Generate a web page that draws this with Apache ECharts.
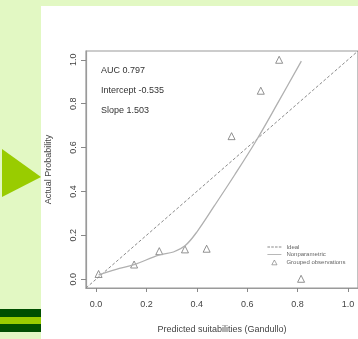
<!DOCTYPE html>
<html>
<head>
<meta charset="utf-8">
<script src="https://cdn.jsdelivr.net/npm/echarts@6/dist/echarts.min.js"></script>
<style>
html,body{margin:0;padding:0;background:#e2f8c3;}
#c{width:358px;height:339px;}
</style>
</head>
<body>
<div id="c"></div>
<script>
// ---- data ----
const xTicks = [0, 0.2, 0.4, 0.6, 0.8, 1.0];
const yTicks = [0, 0.2, 0.4, 0.6, 0.8, 1.0];
const idealX = [-0.04, 1.04];
const idealY = [-0.04, 1.04];
const npX = [0.010, 0.080, 0.151, 0.249, 0.307, 0.353, 0.400, 0.470, 0.550, 0.635, 0.720, 0.815];
const npY = [0.020, 0.045, 0.066, 0.110, 0.124, 0.152, 0.215, 0.335, 0.475, 0.630, 0.800, 0.994];
const obsX = [0.010, 0.151, 0.251, 0.353, 0.439, 0.538, 0.654, 0.727, 0.814];
const obsY = [0.024, 0.067, 0.128, 0.136, 0.139, 0.652, 0.859, 1.000, 0.002];
const seriesNames = ['Ideal', 'Nonparametric', 'Grouped observations'];
const statLines = ['AUC 0.797', 'Intercept -0.535', 'Slope 1.503'];
const xTitle = 'Predicted suitabilities (Gandullo)';
const yTitle = 'Actual Probability';

const zip = (a, b) => a.map((v, i) => [v, b[i]]);
const fmt = v => Number(v).toFixed(1);

const chart = echarts.init(document.getElementById('c'), null, {renderer: 'canvas'});
const axisCol = '#9a9a9a';
const tickCol = '#888';
const textCol = '#444';
const FF = 'Liberation Sans, Arial';

chart.setOption({
  backgroundColor: '#e2f8c3',
  animation: false,
  grid: {
    left: 86, top: 51, width: 276, height: 241,
    show: true, borderColor: axisCol, borderWidth: 1.2, backgroundColor: 'transparent'
  },
  xAxis: {
    type: 'value', min: -0.04, max: 1.04,
    axisLine: {show: true, onZero: false, lineStyle: {color: axisCol, width: 1.2}}, splitLine: {show: false},
    axisTick: {show: true, customValues: xTicks, length: 4, lineStyle: {color: tickCol, width: 1}},
    axisLabel: {customValues: xTicks, formatter: fmt, fontSize: 9, color: textCol, margin: 12, fontFamily: FF},
    name: xTitle, nameLocation: 'middle', nameGap: 37,
    nameTextStyle: {fontSize: 9, color: textCol, fontFamily: FF}
  },
  yAxis: {
    type: 'value', min: -0.04, max: 1.04,
    axisLine: {show: true, onZero: false, lineStyle: {color: axisCol, width: 1.2}}, splitLine: {show: false},
    axisTick: {show: true, customValues: yTicks, length: 5, lineStyle: {color: tickCol, width: 1}},
    axisLabel: {customValues: yTicks, formatter: fmt, rotate: 90, fontSize: 9, color: textCol, margin: 8, fontFamily: FF},
    name: yTitle, nameLocation: 'middle', nameRotate: 90, nameGap: 33,
    nameTextStyle: {fontSize: 9, color: textCol, fontFamily: FF}
  },
  legend: {
    data: [
      {name: seriesNames[0], icon: 'path://M0,0M14,6M0,2.5h2.6v1h-2.6zM3.8,2.5h2.6v1h-2.6zM7.6,2.5h2.6v1h-2.6zM11.4,2.5h2.6v1h-2.6z',
       itemStyle: {color: '#8a8a8a', borderWidth: 0}},
      {name: seriesNames[1], icon: 'path://M0,0M14,6M0,2.6h14v0.9h-14z',
       itemStyle: {color: '#b0b0b0', borderWidth: 0}},
      {name: seriesNames[2], icon: 'path://M0,0M14,6M7,0.6L9.6,5.4L4.4,5.4Z',
       itemStyle: {color: 'rgba(255,255,255,0)', borderColor: '#777', borderWidth: 0.8}}
    ],
    orient: 'vertical', left: 267, top: 244,
    itemWidth: 14, itemHeight: 6, itemGap: 1.5, padding: 0,
    textStyle: {fontSize: 6, color: '#666', fontFamily: FF}
  },
  graphic: [
    {type: 'rect', z: -10, shape: {x: 41, y: 6, width: 317, height: 333}, style: {fill: '#ffffff'}, silent: true},
    {type: 'polygon', z: -10, shape: {points: [[2, 149], [41, 177], [2, 197]]}, style: {fill: '#99cc00'}, silent: true},
    {type: 'rect', z: -10, shape: {x: 0, y: 309, width: 41, height: 8}, style: {fill: '#004f00'}, silent: true},
    {type: 'rect', z: -10, shape: {x: 0, y: 317, width: 41, height: 7}, style: {fill: '#99cc00'}, silent: true},
    {type: 'rect', z: -10, shape: {x: 0, y: 324, width: 41, height: 8}, style: {fill: '#004f00'}, silent: true},
    ...statLines.map((t, i) => ({
      type: 'text', z: 100, left: 101, top: 66 + i * 20,
      style: {text: t, fontSize: 9, fill: '#333', fontFamily: FF}
    }))
  ],
  series: [
    {
      name: seriesNames[0], type: 'line', data: zip(idealX, idealY), symbol: 'none',
      lineStyle: {type: [3, 2], color: '#8a8a8a', width: 1}, itemStyle: {color: '#8a8a8a'}, silent: true
    },
    {
      name: seriesNames[1], type: 'line', data: zip(npX, npY), symbol: 'none', smooth: 0.35,
      lineStyle: {color: '#b0b0b0', width: 1.3}, itemStyle: {color: '#b0b0b0'}, silent: true
    },
    {
      name: seriesNames[2], type: 'scatter', data: zip(obsX, obsY), symbol: 'triangle', symbolSize: 7,
      itemStyle: {color: 'rgba(255,255,255,0)', borderColor: '#777', borderWidth: 1}, silent: true
    }
  ]
});
</script>
</body>
</html>
